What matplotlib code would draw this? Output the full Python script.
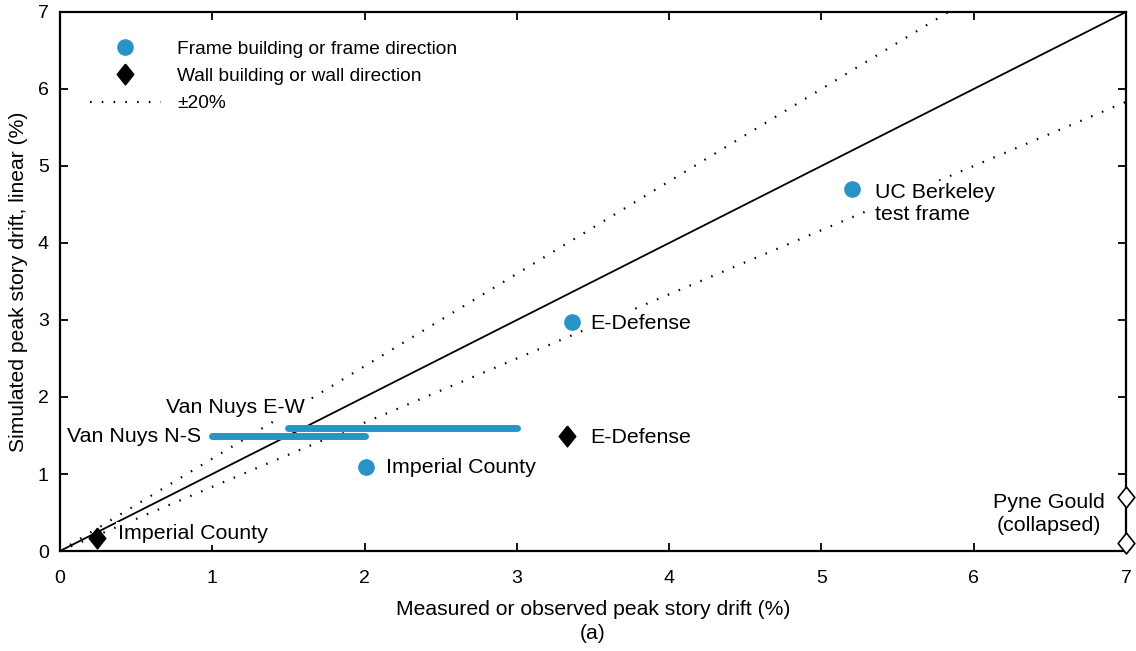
import numpy as np
import matplotlib
matplotlib.use("Agg")
import matplotlib.pyplot as plt
from matplotlib.lines import Line2D

plt.rcParams['font.family'] = ['Liberation Sans', 'DejaVu Sans']

BLUE = '#2893c5'
# slightly squat diamond, wider than matplotlib's 'd'
DIAMOND = [(0, 1), (0.8, 0), (0, -1), (-0.8, 0), (0, 1)]

# frame buildings / frame directions (circles)
frame_names = ['UC Berkeley\ntest frame', 'E-Defense', 'Imperial County']
frame_measured = [5.2, 3.36, 2.01]
frame_simulated = [4.7, 2.97, 1.09]

# wall buildings / wall directions (diamonds)
wall_names = ['E-Defense', 'Imperial County']
wall_measured = [3.33, 0.24]
wall_simulated = [1.49, 0.17]

# Van Nuys: measured drift known only as a range
vn_names = ['Van Nuys N-S', 'Van Nuys E-W']
vn_measured_lo = [1.0, 1.5]
vn_measured_hi = [2.0, 3.0]
vn_simulated = [1.5, 1.6]

# Pyne Gould collapsed -> plotted on the right edge
pg_measured = [7.0, 7.0]
pg_simulated = [0.1, 0.7]

tol = 0.2
lim = 7.0

fig = plt.figure(figsize=(11.36, 6.51), dpi=100)
ax = fig.add_axes([0.0528, 0.1536, 0.9384, 0.828])

# 1:1 line and +/-20% bands
dots = (0, (0.7, 4.6))
xs = np.array([0.0, lim])
ax.plot(xs, xs, color='black', lw=1.3, zorder=2)
ax.plot(xs, xs * (1 + tol), color='black', lw=1.6, ls=dots, zorder=1)
ax.plot(xs, xs / (1 + tol), color='black', lw=1.6, ls=dots, zorder=1)

# Van Nuys ranges
for lo, hi, y in zip(vn_measured_lo, vn_measured_hi, vn_simulated):
    ax.plot([lo, hi], [y, y], color=BLUE, lw=5, solid_capstyle='round', zorder=4)

ax.plot(frame_measured, frame_simulated, 'o', color=BLUE, ms=12, mec='none', zorder=5)
ax.plot(wall_measured, wall_simulated, ls='none', marker=DIAMOND, color='black', ms=15, zorder=5)
ax.plot(pg_measured, pg_simulated, ls='none', marker=DIAMOND, color='white', mec='black',
        mew=1.2, ms=15, clip_on=False, zorder=6)

fs = 15.4
box = dict(facecolor='white', edgecolor='none', pad=1.5)
ax.text(5.35, 4.51, frame_names[0], fontsize=fs, ha='left', va='center',
        linespacing=1.22, bbox=box, zorder=3)
ax.text(3.48, 2.96, frame_names[1], fontsize=fs, ha='left', va='center', bbox=box, zorder=3)
ax.text(2.14, 1.09, frame_names[2], fontsize=fs, ha='left', va='center', zorder=3)
ax.text(3.48, 1.47, wall_names[0], fontsize=fs, ha='left', va='center', zorder=3)
ax.text(0.38, 0.23, wall_names[1], fontsize=fs, ha='left', va='center', bbox=box, zorder=3)
ax.text(0.93, 1.49, vn_names[0], fontsize=fs, ha='right', va='center', zorder=3)
ax.text(1.61, 1.87, vn_names[1], fontsize=fs, ha='right', va='center', bbox=box, zorder=3)
ax.text(6.86, 0.48, 'Pyne Gould\n(collapsed)', fontsize=fs, ha='right', va='center',
        multialignment='center', linespacing=1.25, zorder=3)

ax.set_xlim(0, lim)
ax.set_ylim(0, lim)
ax.set_xticks(range(8))
ax.set_yticks(range(8))
ax.tick_params(direction='in', length=6, width=1.3, top=True, right=True,
               labelsize=14)
ax.tick_params(axis='x', pad=14)
ax.tick_params(axis='y', pad=8)
for s in ax.spines.values():
    s.set_linewidth(1.6)

ax.set_xlabel('Measured or observed peak story drift (%)\n(a)', fontsize=15.2,
              linespacing=1.35, labelpad=9)
ax.set_ylabel('Simulated peak story drift, linear (%)', fontsize=15.2, labelpad=7)

handles = [
    Line2D([], [], ls='none', marker='o', color=BLUE, ms=12, mec='none'),
    Line2D([], [], ls='none', marker=DIAMOND, color='black', ms=15),
    Line2D([], [], color='black', lw=1.6, ls=dots),
]
labels = ['Frame building or frame direction', 'Wall building or wall direction', '\u00b120%']
ax.legend(handles, labels, loc='upper left', bbox_to_anchor=(0.021, 0.962),
          frameon=False, fontsize=13.8, handlelength=3.7, handletextpad=0.85,
          labelspacing=0.52, borderaxespad=0)

fig.savefig('out.png', dpi=100)
